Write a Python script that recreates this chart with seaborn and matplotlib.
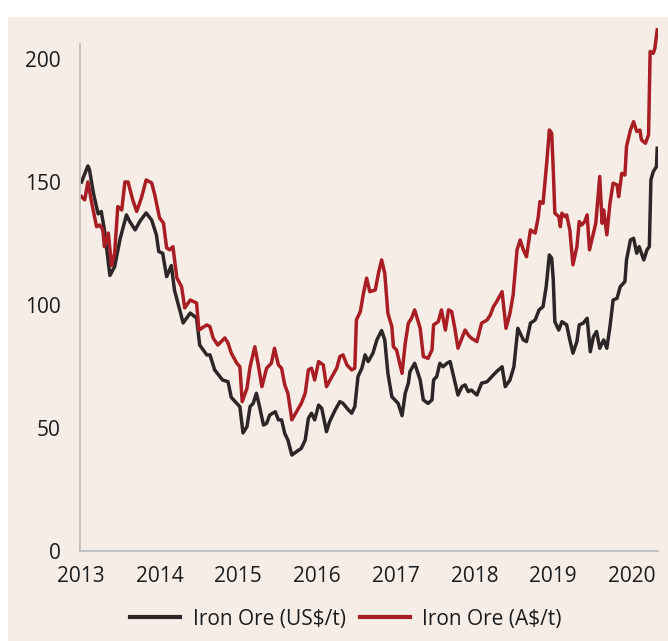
import pandas as pd
import matplotlib.pyplot as plt
import seaborn as sns
from matplotlib.patches import Rectangle

# Iron ore prices (decimal year, price)
usd_year = [2013.01, 2013.09, 2013.11, 2013.16, 2013.22, 2013.26, 2013.30, 2013.37, 2013.43, 2013.50,
            2013.58, 2013.62, 2013.69, 2013.75, 2013.83, 2013.90, 2013.96, 2013.99, 2014.04, 2014.09,
            2014.15, 2014.19, 2014.30, 2014.39, 2014.47, 2014.51, 2014.60, 2014.64, 2014.70, 2014.80,
            2014.87, 2014.91, 2014.98, 2015.02, 2015.06, 2015.11, 2015.15, 2015.19, 2015.23, 2015.27,
            2015.32, 2015.36, 2015.40, 2015.47, 2015.51, 2015.55, 2015.59, 2015.63, 2015.68, 2015.74,
            2015.80, 2015.85, 2015.89, 2015.93, 2015.97, 2016.02, 2016.06, 2016.12, 2016.16, 2016.23,
            2016.29, 2016.33, 2016.40, 2016.44, 2016.48, 2016.52, 2016.57, 2016.61, 2016.65, 2016.71,
            2016.76, 2016.82, 2016.86, 2016.90, 2016.95, 2017.03, 2017.08, 2017.12, 2017.16, 2017.18,
            2017.24, 2017.31, 2017.35, 2017.41, 2017.46, 2017.48, 2017.52, 2017.56, 2017.60, 2017.65,
            2017.69, 2017.73, 2017.79, 2017.84, 2017.88, 2017.92, 2017.96, 2018.03, 2018.09, 2018.16,
            2018.22, 2018.28, 2018.35, 2018.39, 2018.45, 2018.50, 2018.55, 2018.62, 2018.66, 2018.71,
            2018.77, 2018.82, 2018.87, 2018.91, 2018.95, 2018.98, 2019.00, 2019.02, 2019.07, 2019.11,
            2019.17, 2019.21, 2019.25, 2019.30, 2019.33, 2019.38, 2019.43, 2019.47, 2019.51, 2019.55,
            2019.59, 2019.64, 2019.68, 2019.72, 2019.76, 2019.81, 2019.85, 2019.91, 2019.93, 2019.98,
            2020.02, 2020.06, 2020.09, 2020.15, 2020.19, 2020.22, 2020.24, 2020.27, 2020.31, 2020.32]
usd_price = [150, 156.5, 155, 145.5, 137, 138, 130.5, 112, 115.6, 127,
             136.6, 134, 130.5, 134, 137.4, 134.5, 128.5, 121.7, 121, 111.5,
             116, 106, 92.7, 96.7, 94.7, 83.7, 79.7, 79.7, 73.6, 69.5,
             68.8, 62.5, 60, 58.7, 48, 50.5, 58.7, 60, 64.1, 58.7,
             51.2, 51.9, 55.3, 56.6, 53.3, 53.3, 47.8, 45.1, 39, 40.4,
             41.7, 45.1, 53.9, 56, 53.3, 59.3, 58, 48.5, 52.6, 57.3,
             60.7, 60, 57.3, 56, 58.7, 70.9, 74.3, 79.7, 77, 80.4,
             85.8, 89.6, 85.8, 72.2, 62.7, 60, 55, 64.1, 68.2, 72.9,
             76.3, 69.5, 61.4, 60, 61.4, 69.5, 70.9, 76.3, 74.9, 76.3,
             77, 71.5, 63.4, 66.8, 67.5, 64.8, 65.4, 63.4, 68.2, 68.8,
             70.9, 72.9, 74.9, 66.8, 69.5, 74.9, 90.5, 85.8, 85.1, 92.6,
             93.9, 98, 99.3, 107.4, 120.3, 119, 110.2, 93.2, 89.8, 93.2,
             91.9, 85.8, 80.4, 85.1, 91.9, 92.6, 94.6, 81, 87.1, 89.2,
             82.4, 85.8, 82.4, 91.2, 102, 102.7, 107.4, 109.5, 118.3, 126.4,
             127.1, 121, 123.7, 118.3, 122.4, 123.7, 150.8, 154.2, 156.2, 163.7]

aud_year = [2013.01, 2013.05, 2013.09, 2013.14, 2013.20, 2013.24, 2013.28, 2013.30, 2013.35, 2013.39,
            2013.43, 2013.47, 2013.52, 2013.56, 2013.60, 2013.66, 2013.71, 2013.77, 2013.83, 2013.90,
            2013.94, 2014.00, 2014.05, 2014.09, 2014.13, 2014.17, 2014.22, 2014.28, 2014.32, 2014.39,
            2014.47, 2014.50, 2014.60, 2014.64, 2014.68, 2014.74, 2014.83, 2014.87, 2014.91, 2014.98,
            2015.02, 2015.05, 2015.11, 2015.15, 2015.21, 2015.25, 2015.30, 2015.36, 2015.42, 2015.46,
            2015.51, 2015.55, 2015.59, 2015.63, 2015.68, 2015.74, 2015.80, 2015.85, 2015.89, 2015.93,
            2015.97, 2016.02, 2016.08, 2016.12, 2016.19, 2016.25, 2016.29, 2016.33, 2016.38, 2016.44,
            2016.48, 2016.50, 2016.55, 2016.59, 2016.63, 2016.67, 2016.74, 2016.78, 2016.82, 2016.86,
            2016.90, 2016.95, 2016.97, 2017.01, 2017.08, 2017.12, 2017.16, 2017.20, 2017.24, 2017.31,
            2017.35, 2017.41, 2017.46, 2017.48, 2017.54, 2017.58, 2017.63, 2017.67, 2017.71, 2017.75,
            2017.79, 2017.84, 2017.88, 2017.92, 2017.96, 2018.03, 2018.09, 2018.16, 2018.20, 2018.24,
            2018.28, 2018.35, 2018.40, 2018.45, 2018.49, 2018.54, 2018.58, 2018.62, 2018.66, 2018.71,
            2018.77, 2018.81, 2018.83, 2018.87, 2018.92, 2018.95, 2018.98, 2019.00, 2019.02, 2019.07,
            2019.09, 2019.11, 2019.15, 2019.17, 2019.21, 2019.25, 2019.30, 2019.33, 2019.36, 2019.40,
            2019.43, 2019.46, 2019.51, 2019.54, 2019.59, 2019.62, 2019.64, 2019.68, 2019.72, 2019.76,
            2019.81, 2019.83, 2019.87, 2019.91, 2019.93, 2019.98, 2020.02, 2020.06, 2020.10, 2020.12,
            2020.17, 2020.21, 2020.23, 2020.27, 2020.29, 2020.32]
aud_price = [144, 142.7, 150, 141.4, 131.8, 132.5, 130.5, 123.7, 129.2, 116,
             121, 140, 138.6, 150, 150, 142.7, 138, 143.5, 150.8, 149.6,
             144.7, 135.4, 133.3, 123.2, 122.4, 123.7, 111, 107.4, 98.8, 102,
             100.8, 89.8, 91.9, 91.2, 86.6, 83.7, 86.6, 84.5, 80.5, 76.4,
             74.9, 60.7, 66.1, 74.9, 83, 76.3, 66.8, 74.3, 76.3, 82.4,
             75.6, 74.3, 67.5, 64.1, 53.3, 56.6, 60, 64.1, 73.6, 74.3,
             69.5, 77, 75.6, 66.8, 70.9, 74.3, 79, 79.7, 75.6, 73.6,
             74.3, 93.9, 97.3, 104.8, 110.9, 105.4, 106.1, 112.9, 118.3, 112.9,
             96.6, 91.2, 83, 81.7, 72.2, 84.4, 92.6, 94.6, 98, 90.5,
             79, 78.3, 81.7, 91.9, 93.2, 98, 89.8, 98, 97.3, 90.5,
             82.4, 86.5, 89.8, 87.8, 86.5, 85.1, 92.6, 93.9, 95.9, 99.3,
             101.3, 105.4, 90.5, 96.6, 104, 122.4, 126.4, 122.4, 119.6, 130.5,
             129.2, 135.9, 142, 141.3, 158.9, 171.1, 169.8, 154.9, 137.3, 135.9,
             131.8, 137.3, 135.9, 136.6, 130.5, 116.3, 123.7, 133.9, 132.5, 133.9,
             136.6, 122.4, 129.2, 133.2, 152.2, 133.2, 138.6, 128.5, 141.3, 149.5,
             148.8, 144, 153.5, 152.8, 164.4, 171.1, 174.5, 170.5, 171.1, 167.1,
             165.7, 169.1, 203, 202.3, 204.3, 211.8]

year_ticks = [2013, 2014, 2015, 2016, 2017, 2018, 2019, 2020]
price_ticks = [0, 50, 100, 150, 200]

series_names = ["Iron Ore (US$/t)", "Iron Ore (A$/t)"]
colors = ["#2d2627", "#a81e24"]

df = pd.concat([
    pd.DataFrame({"year": usd_year, "price": usd_price, "series": series_names[0]}),
    pd.DataFrame({"year": aud_year, "price": aud_price, "series": series_names[1]}),
])

bg = "#f6ede7"
plt.rcParams["font.family"] = ["Open Sans", "DejaVu Sans"]

fig = plt.figure(figsize=(6.68, 6.41), dpi=100)
fig.patch.set_facecolor("white")
# beige panel behind the chart, white strip at the top
fig.patches.append(Rectangle((8 / 668, 0), 1 - 8 / 668, 1 - 17 / 641,
                             transform=fig.transFigure, facecolor=bg,
                             edgecolor="none", zorder=-10))

ax = fig.add_axes([80 / 668, 90 / 641, 578 / 668, 529 / 641])
ax.set_facecolor("none")
ax.set_zorder(1)

sns.lineplot(data=df, x="year", y="price", hue="series", palette=colors,
             linewidth=2.5, ax=ax, legend=True, sort=False)

ax.set_xlim(2012.99, 2020.33)
ax.set_ylim(0, 215)
ax.set_xticks(year_ticks)
ax.set_xticklabels([str(y) for y in year_ticks])
ax.set_yticks(price_ticks)
ax.tick_params(axis="x", length=0, pad=11, labelsize=15, labelcolor="#1c1c1c")
ax.tick_params(axis="y", length=0, pad=14, labelsize=15, labelcolor="#1c1c1c")
ax.set_xlabel("")
ax.set_ylabel("")

for side in ["top", "right"]:
    ax.spines[side].set_visible(False)
for side in ["left", "bottom"]:
    ax.spines[side].set_color("#bfbfbf")
    ax.spines[side].set_linewidth(1.3)
ax.spines["left"].set_bounds(0, 206)

handles, labels = ax.get_legend_handles_labels()
ax.get_legend().remove()
leg = fig.legend(handles, labels, loc="center", bbox_to_anchor=(346 / 668, 1 - 619 / 641),
                 ncol=2, frameon=False, fontsize=15, handlelength=2.4,
                 handletextpad=0.6, columnspacing=0.65)
for text in leg.get_texts():
    text.set_color("#1c1c1c")
for line in leg.get_lines():
    line.set_linewidth(3)

fig.savefig("out.png", dpi=100)
